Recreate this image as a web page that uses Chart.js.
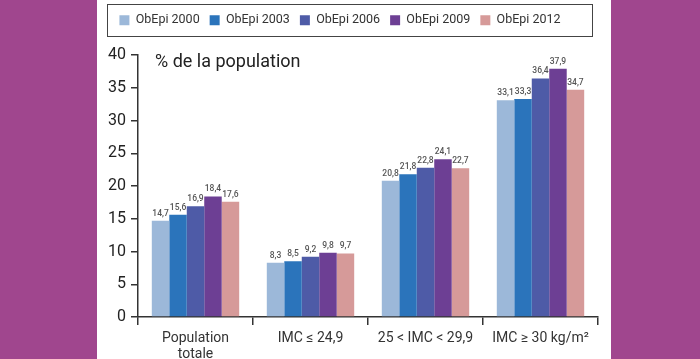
<!DOCTYPE html>
<html>
<head>
<meta charset="utf-8">
<script src="https://cdn.jsdelivr.net/npm/chart.js@4"></script>
<style>
  html, body { margin: 0; padding: 0; background: #A0468E; }
  #wrap { width: 700px; height: 359px; position: relative; }
  canvas { display: block; }
</style>
</head>
<body>
<div id="wrap"><canvas id="c" width="700" height="359"></canvas></div>
<script>
const categories = [["Population", "totale"], "IMC ≤ 24,9", "25 < IMC < 29,9", "IMC ≥ 30 kg/m²"];
const seriesNames = ["ObEpi 2000", "ObEpi 2003", "ObEpi 2006", "ObEpi 2009", "ObEpi 2012"];
const obepi2000 = [14.7, 8.3, 20.8, 33.1];
const obepi2003 = [15.6, 8.5, 21.8, 33.3];
const obepi2006 = [16.9, 9.2, 22.8, 36.4];
const obepi2009 = [18.4, 9.8, 24.1, 37.9];
const obepi2012 = [17.6, 9.7, 22.7, 34.7];
const yTicks = [0, 5, 10, 15, 20, 25, 30, 35, 40];
const yTitle = "% de la population";

const colors = ["#9CB8D9", "#2B74BB", "#4E5BA7", "#6D3F94", "#D69A99"];
const seriesValues = [obepi2000, obepi2003, obepi2006, obepi2009, obepi2012];

const FONT = "Roboto, 'Open Sans', sans-serif";

const bgPlugin = {
  id: 'bg',
  beforeDraw(chart) {
    const ctx = chart.ctx;
    ctx.save();
    ctx.fillStyle = '#A0468E';
    ctx.fillRect(0, 0, chart.width, chart.height);
    ctx.fillStyle = '#FFFFFF';
    ctx.fillRect(97, 0, 514, chart.height);
    ctx.strokeStyle = '#444';
    ctx.lineWidth = 1;
    ctx.strokeRect(107.5, 4.5, 485, 32);
    ctx.restore();
  }
};

const legendFix = {
  id: 'legendFix',
  beforeInit(chart) {
    const orig = chart.legend.fit;
    chart.legend.fit = function () {
      orig.call(this);
      this.height = 51;
    };
  }
};

const labelsPlugin = {
  id: 'valueLabels',
  afterDatasetsDraw(chart) {
    const ctx = chart.ctx;
    ctx.save();
    ctx.font = "500 8.5px " + FONT;
    ctx.fillStyle = '#555';
    ctx.textAlign = 'center';
    ctx.textBaseline = 'bottom';
    chart.data.datasets.forEach((ds, i) => {
      const meta = chart.getDatasetMeta(i);
      meta.data.forEach((bar, j) => {
        const txt = ds.data[j].toFixed(1).replace('.', ',');
        ctx.fillText(txt, bar.x, bar.y - 3);
      });
    });
    ctx.font = "18px " + FONT;
    ctx.fillStyle = '#222';
    ctx.textAlign = 'left';
    ctx.textBaseline = 'middle';
    ctx.fillText(yTitle, 155, 62);
    ctx.restore();
  }
};

new Chart(document.getElementById('c'), {
  type: 'bar',
  data: {
    labels: categories,
    datasets: seriesNames.map((name, i) => ({
      label: name,
      data: seriesValues[i],
      backgroundColor: colors[i],
      borderWidth: 0,
      categoryPercentage: 0.76,
      barPercentage: 1.0
    }))
  },
  options: {
    responsive: false,
    animation: false,
    devicePixelRatio: 1,
    layout: { padding: { left: 82, right: 102, top: 4, bottom: 0 } },
    plugins: {
      legend: {
        position: 'top',
        labels: {
          boxWidth: 10,
          boxHeight: 10,
          padding: 10,
          color: '#333',
          font: { family: FONT, size: 12.5 }
        }
      },
      tooltip: { enabled: false }
    },
    scales: {
      x: {
        afterFit(scale) { scale.height = 42; },
        grid: {
          offset: true,
          drawOnChartArea: false,
          drawTicks: true,
          tickLength: 8,
          color: '#333',
          lineWidth: 1.5
        },
        border: { display: true, color: '#333', width: 1.5 },
        ticks: {
          color: '#333',
          padding: 5,
          font: { family: FONT, size: 14, lineHeight: 1.15 },
          maxRotation: 0,
          autoSkip: false
        }
      },
      y: {
        min: 0,
        max: 40,
        afterFit(scale) { scale.width = 56; },
        afterBuildTicks(scale) { scale.ticks = yTicks.map(v => ({ value: v })); },
        grid: {
          drawOnChartArea: false,
          drawTicks: true,
          tickLength: 7,
          color: '#333',
          lineWidth: 1.5
        },
        border: { display: true, color: '#333', width: 1.5 },
        ticks: {
          color: '#222',
          padding: 5,
          font: { family: FONT, size: 16 }
        }
      }
    }
  },
  plugins: [bgPlugin, legendFix, labelsPlugin]
});
</script>
</body>
</html>
